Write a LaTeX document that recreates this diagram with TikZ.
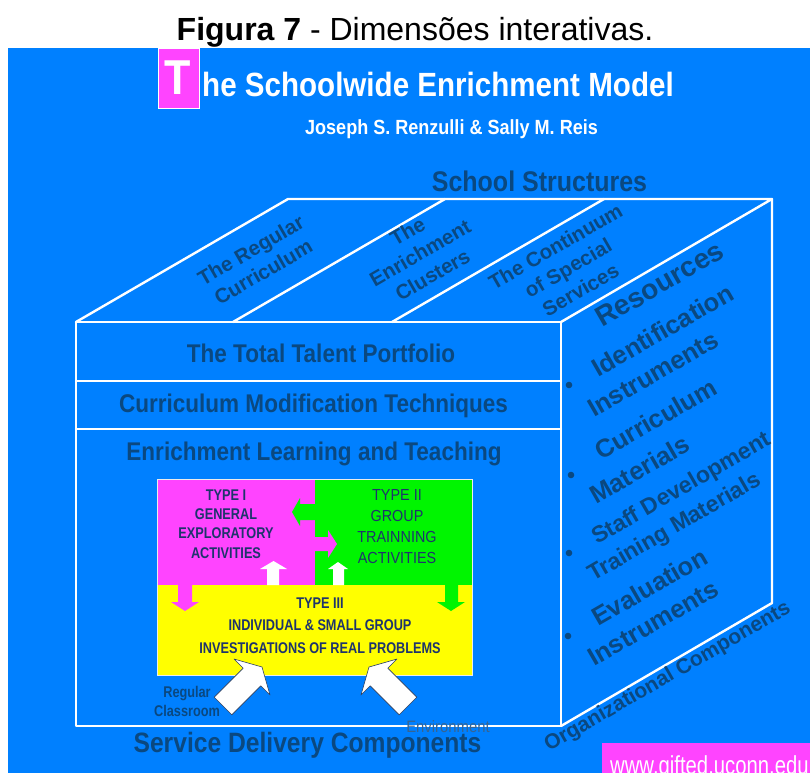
\documentclass[tikz,border=0pt]{standalone}
\usepackage{fontspec}
\setmainfont{Liberation Sans}
\newfontfamily\condA[FakeStretch=0.88]{Liberation Sans}
\newfontfamily\condB[FakeStretch=0.82]{Liberation Sans}
\newfontfamily\condC[FakeStretch=0.9]{Liberation Sans}
\newfontfamily\condU[FakeStretch=0.78]{Liberation Sans}
\newcommand{\psz}[2]{\fontsize{#1}{#2}\selectfont}
\definecolor{bgblue}{RGB}{0,128,255}
\definecolor{dtext}{RGB}{10,72,128}
\definecolor{navy}{RGB}{30,52,108}
\definecolor{mag}{RGB}{255,68,255}
\definecolor{grn}{RGB}{0,245,0}
\definecolor{ylw}{RGB}{255,255,0}
\definecolor{envc}{RGB}{55,100,145}
\tikzset{
  edge/.style={draw=white, line width=2.4pt, line join=round, line cap=round},
  lbl/.style={text=dtext, inner sep=0pt},
  frontlbl/.style={lbl, anchor=base, font=\condA\bfseries\psz{25.6}{26}},
  toplbl/.style={lbl, rotate=30, align=center, font=\bfseries\psz{20.5}{25}},
  sidelbl/.style={lbl, rotate=30, anchor=base west, font=\bfseries\psz{25.5}{25}},
  sidesmall/.style={lbl, rotate=30, anchor=base west, font=\bfseries\psz{23}{23}},
  typetxt/.style={text=navy, inner sep=0pt, align=center},
  bigarrow/.style={fill=white, draw={rgb,255:red,40;green,60;blue,95}, line width=0.6pt, line join=round},
  bullet/.style={fill=dtext, draw=none}
}
\begin{document}
\begin{tikzpicture}[x=1pt,y=-1pt]
\useasboundingbox (0,0) rectangle (810,773);
\fill[white] (0,0) rectangle (810,773);
\node[anchor=base, inner sep=0pt, font=\psz{32}{32}] (caption) at (415,41) {\textbf{Figura 7} - Dimensões interativas.};
\fill[bgblue] (8,48) rectangle (810,773);

% title block
\node[draw=white, line width=1.5pt, fill=mag, minimum width=41pt, minimum height=60pt, anchor=north west, inner sep=0pt] (tbox) at (157.5,48) {};
\node[text=white, font=\condA\bfseries\psz{49}{49}, anchor=base, inner sep=0pt] (tletter) at (178,95) {T};
\node[anchor=base west, text=white, font=\condA\bfseries\psz{33.6}{34}, inner sep=0pt] (title) at (202,97) {he Schoolwide Enrichment Model};
\node[anchor=base, text=white, font=\condA\bfseries\psz{20.5}{21}, inner sep=0pt] (authors) at (451.5,134) {Joseph S. Renzulli \& Sally M. Reis};
\node[lbl, anchor=base, font=\condA\bfseries\psz{28.4}{28}] (structures) at (539.5,191) {School Structures};

% cube
\coordinate (A) at (76,322);
\coordinate (B) at (561,322);
\coordinate (C) at (561,726);
\coordinate (D) at (76,726);
\coordinate (E) at (288,199);
\coordinate (F) at (772,199);
\coordinate (G) at (772,603);
\coordinate (d1f) at (233,322);
\coordinate (d1b) at (445,199);
\coordinate (d2f) at (392,322);
\coordinate (d2b) at (604,199);
\coordinate (h1l) at (76,381);
\coordinate (h1r) at (561,381);
\coordinate (h2l) at (76,429);
\coordinate (h2r) at (561,429);
\draw[edge] (A) -- (B) -- (C) -- (D) -- cycle;
\draw[edge] (A) -- (E) -- (F) -- (B);
\draw[edge] (F) -- (G) -- (C);
\draw[edge] (d1f) -- (d1b);
\draw[edge] (d2f) -- (d2b);
\draw[edge] (h1l) -- (h1r);
\draw[edge] (h2l) -- (h2r);

% top face
\node[toplbl] (regcur) at (257,261) {The Regular\\Curriculum};
\node[toplbl] (enrcl) at (420,253) {The\\Enrichment\\Clusters};
\node[toplbl] (contin) at (568,268) {The Continuum\\of Special\\Services};

% front face rows
\node[frontlbl] (ttp) at (321,362) {The Total Talent Portfolio};
\node[frontlbl] (cmt) at (313.5,412) {Curriculum Modification Techniques};
\node[frontlbl] (elt) at (314,460) {Enrichment Learning and Teaching};

% right face
\node[lbl, rotate=30, anchor=base west, font=\bfseries\psz{28}{28}] (res) at (602,328) {Resources};
\node[sidelbl] (r1a) at (598,378) {Identification};
\node[sidelbl] (r1b) at (594,418) {Instruments};
\node[sidelbl] (r2a) at (601,461) {Curriculum};
\node[sidelbl] (r2b) at (596,505) {Materials};
\node[sidesmall] (r3a) at (597,545) {Staff Development};
\node[sidesmall] (r3b) at (593,582) {Training Materials};
\node[sidelbl] (r4a) at (598,627) {Evaluation};
\node[sidelbl] (r4b) at (594,667) {Instruments};
\fill[bullet] (569,385) circle (3.3);
\fill[bullet] (571,475) circle (3.3);
\fill[bullet] (569,553) circle (3.3);
\fill[bullet] (568,636) circle (3.3);
\node[lbl, rotate=30, anchor=base west, font=\bfseries\psz{21}{21}] (orgc) at (549,752) {Organizational Components};

% inner enrichment triad
\fill[ylw] (157,585) rectangle (472,675);
\fill[mag] (157,479) rectangle (315,585);
\fill[grn] (315,479) rectangle (472,585);
\draw[white!85!gray, line width=1pt] (157,479) rectangle (472,675);

\fill[grn] (316,504) -- (300,504) -- (300,498) -- (292,512) -- (300,526) -- (300,520) -- (316,520) -- cycle;
\fill[mag] (312,537) -- (328,537) -- (328,530) -- (337,544) -- (328,558) -- (328,551) -- (312,551) -- cycle;
\fill[white] (267,585) -- (267,569) -- (260,569) -- (273.5,561) -- (287,569) -- (279,569) -- (279,585) -- cycle;
\fill[white] (333,585) -- (333,569) -- (328,569) -- (338,562) -- (348,569) -- (344,569) -- (344,585) -- cycle;
\fill[mag] (178,585) -- (178,602) -- (171,602) -- (185,611) -- (199,602) -- (192,602) -- (192,585) -- cycle;
\fill[grn] (445,585) -- (445,602) -- (437,602) -- (451,611) -- (465,602) -- (458,602) -- (458,585) -- cycle;

\node[typetxt, font=\condB\bfseries\psz{15.5}{19.3}] (type1) at (226,524) {TYPE I\\GENERAL\\EXPLORATORY\\ACTIVITIES};
\node[typetxt, font=\condC\psz{16}{21}] (type2) at (397,526.5) {TYPE II\\GROUP\\TRAINNING\\ACTIVITIES};
\node[typetxt, font=\condB\bfseries\psz{15.5}{22.5}] (type3) at (320,625.5) {TYPE III\\INDIVIDUAL \& SMALL GROUP\\INVESTIGATIONS OF REAL PROBLEMS};

% big white arrows (45 degree block arrows)
\draw[bigarrow] (214.2,697.2) -- (243.2,668.2) -- (234,659) -- (262,667) -- (270,695) -- (260.8,685.8) -- (231.8,714.8) -- cycle;
\draw[bigarrow] (416.8,697.2) -- (387.8,668.2) -- (397,659) -- (369,667) -- (361,695) -- (370.2,685.8) -- (399.2,714.8) -- cycle;
\node[lbl, align=center, font=\condB\bfseries\psz{15.5}{19}] (regclass) at (187,701) {Regular\\Classroom};
\node[text=envc, inner sep=0pt, anchor=base, font=\condC\psz{16.5}{17}] (env) at (448,732) {Environment};

\node[frontlbl, font=\condA\bfseries\psz{28}{28}] (sdc) at (307.5,752) {Service Delivery Components};

% url box
\fill[mag] (602,743) rectangle (810,773);
\begin{scope}
\clip (602,743) rectangle (810,773);
\node[text=white, inner sep=0pt, anchor=base west, font=\condU\psz{26}{26}] (url) at (610,774) {www.gifted.uconn.edu};
\end{scope}
\end{tikzpicture}
\end{document}
